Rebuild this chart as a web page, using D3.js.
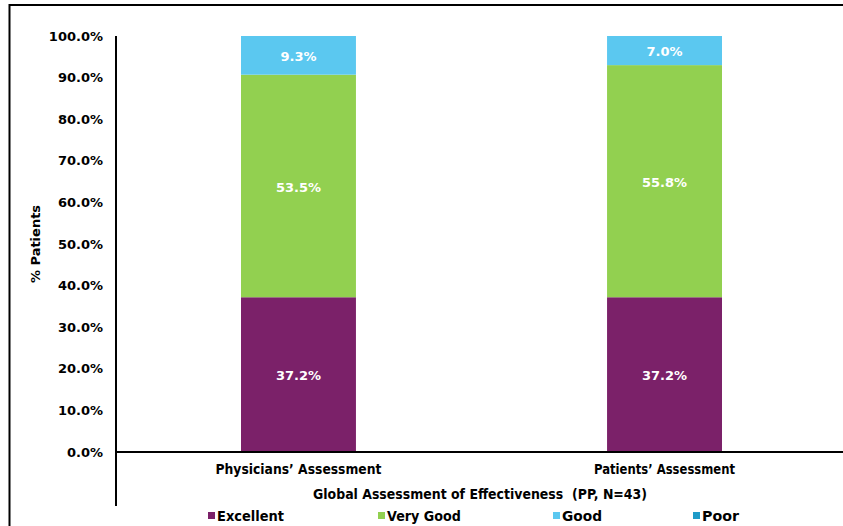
<!DOCTYPE html>
<html><head><meta charset="utf-8">
<script src="https://cdnjs.cloudflare.com/ajax/libs/d3/7.8.5/d3.min.js"></script>
<style>
html,body{margin:0;padding:0;background:#fff;}
svg{display:block;}
text{font-family:"DejaVu Sans",Verdana,sans-serif;font-weight:bold;}
</style></head>
<body>
<svg id="chart" width="843" height="526"></svg>
<script>
const categories = ["Physicians\u2019 Assessment", "Patients\u2019 Assessment"];
const seriesNames = ["Excellent", "Very Good", "Good", "Poor"];
const excellent = [37.2, 37.2];
const veryGood = [53.5, 55.8];
const good = [9.3, 7.0];
const poor = [0, 0];
const yTicks = [0, 10, 20, 30, 40, 50, 60, 70, 80, 90, 100];
const colors = ["#7b2169", "#92d050", "#5bc8f0", "#1f9bc8"];
const xTitle = "Global Assessment of Effectiveness  (PP, N=43)";
const yTitle = "% Patients";

const svg = d3.select("#chart");
const W = 843, H = 526;
const mLeft = 116, mRight = 847, mTop = 36, mBottom = 452;

// frame
svg.append("path").attr("d", `M9.5,${H} L9.5,5 L${W},5`).attr("fill","none").attr("stroke","#000").attr("stroke-width",2);

const x = d3.scaleBand().domain(categories).range([mLeft, mRight]).paddingInner(0.686).paddingOuter(0.3415);
const y = d3.scaleLinear().domain([0, 100]).range([mBottom, mTop]);

const table = categories.map((c, i) => ({cat: c, Excellent: excellent[i], "Very Good": veryGood[i], Good: good[i], Poor: poor[i]}));
const stack = d3.stack().keys(seriesNames)(table);

const layers = svg.append("g").selectAll("g").data(stack).join("g").attr("fill", (d, i) => colors[i]);
layers.selectAll("rect").data(d => d).join("rect")
  .attr("x", d => x(d.data.cat))
  .attr("width", x.bandwidth())
  .attr("y", d => y(d[1]))
  .attr("height", d => y(d[0]) - y(d[1]));

// value labels
layers.each(function(s) {
  d3.select(this).selectAll("text").data(s.filter(d => d[1] - d[0] > 0)).join("text")
    .attr("x", d => x(d.data.cat) + x.bandwidth() / 2)
    .attr("y", d => (y(d[0]) + y(d[1])) / 2 + 1)
    .attr("dy", "0.35em")
    .attr("text-anchor", "middle")
    .attr("fill", "#fff")
    .attr("font-size", 13)
    .text(d => (d[1] - d[0]).toFixed(1) + "%");
});

// y axis
const yAxis = d3.axisLeft(y).tickValues(yTicks).tickSize(0).tickPadding(13).tickFormat(d => d.toFixed(1) + "%");
const gy = svg.append("g").attr("transform", `translate(${mLeft},0)`).call(yAxis);
gy.select(".domain").remove();
gy.selectAll("text").attr("font-size", 13).attr("fill", "#000").style("font-family", '"DejaVu Sans",Verdana,sans-serif').style("font-weight","bold");
svg.append("line").attr("x1", mLeft).attr("x2", mLeft).attr("y1", mTop).attr("y2", 506).attr("stroke", "#000").attr("stroke-width", 2);

// x axis
const xAxis = d3.axisBottom(x).tickSize(0).tickPadding(12);
const gx = svg.append("g").attr("transform", `translate(0,${mBottom})`).call(xAxis);
gx.select(".domain").remove();
gx.selectAll("text").attr("font-size", 13.5).attr("fill", "#000")
  .style("font-family", '"DejaVu Sans",Verdana,sans-serif').style("font-weight","bold")
  .attr("textLength", d => d.startsWith("Phys") ? 166 : 141).attr("lengthAdjust", "spacingAndGlyphs");
svg.append("line").attr("x1", mLeft).attr("x2", W).attr("y1", mBottom).attr("y2", mBottom).attr("stroke", "#000").attr("stroke-width", 2);

// axis titles
svg.append("text").attr("x", 480).attr("y", 499).attr("text-anchor", "middle").attr("font-size", 13.5)
  .style("white-space", "pre")
  .attr("textLength", 334).attr("lengthAdjust", "spacingAndGlyphs").text(xTitle);
svg.append("text").attr("transform", "translate(40,244) rotate(-90)").attr("text-anchor", "middle").attr("font-size", 13)
  .text(yTitle);

// legend
const legendX = [208, 378, 553, 693];
const legendW = [67, 74, 40, 37];
const lg = svg.append("g").selectAll("g").data(seriesNames).join("g")
  .attr("transform", (d, i) => `translate(${legendX[i]},516)`);
lg.append("rect").attr("x", 0).attr("y", -4).attr("width", 7).attr("height", 7).attr("fill", (d, i) => colors[i]);
lg.append("text").attr("x", 9).attr("dy", "0.38em").attr("font-size", 13.5)
  .attr("textLength", (d, i) => legendW[i]).attr("lengthAdjust", "spacingAndGlyphs").text(d => d);
</script>
</body></html>
